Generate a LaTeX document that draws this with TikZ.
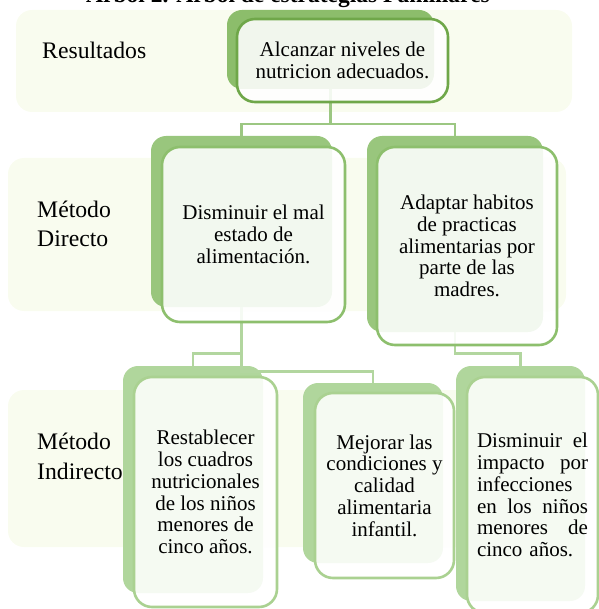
\documentclass[tikz,border=0pt]{standalone}
\usepackage{fontspec}
\setmainfont{Liberation Serif}
\definecolor{bandfill}{HTML}{F9FCEF}
\definecolor{backone}{HTML}{8CBD6B}
\definecolor{backtwo}{HTML}{99C67D}
\definecolor{backthree}{HTML}{B0D69C}
\definecolor{lineone}{HTML}{6FA749}
\definecolor{linetwo}{HTML}{8DBF6D}
\definecolor{linethree}{HTML}{AAD191}
\definecolor{linkone}{HTML}{9CC782}
\definecolor{linktwo}{HTML}{B2D69F}
\tikzset{
  band/.style={rounded corners=16pt, fill=bandfill, inner sep=0pt},
  backbox/.style={rounded corners=15pt, inner sep=0pt},
  frontbox/.style={rounded corners=18pt, draw, line width=2.6pt, fill=white,
    fill opacity=0.88, text opacity=1, inner sep=0pt, align=center,
    font=\fontsize{21}{21.8}\selectfont},
  level/.style={anchor=base west, inner sep=0pt, align=left, font=\fontsize{23.7}{29.3}\selectfont},
  link/.style={line width=2.6pt}
}
\begin{document}
\begin{tikzpicture}[x=1pt, y=-1pt]
    \useasboundingbox (0,0) rectangle (598,609);
    \path   node[anchor=base, font=\fontsize{23.5}{28}\selectfont\bfseries] (T) at (288,3) {Árbol 2. Árbol de estrategias Familiares}
            node[band, minimum width=556, minimum height=102] (R1) at (294,61) {}
            node[band, minimum width=558, minimum height=153] (R2) at (287,234.5) {}
            node[band, minimum width=558, minimum height=157] (R3) at (287,468.5) {}
            node[level] (L1) at (42,59) {Resultados}
            node[level] (L2) at (37,247) {Método\\Directo}
            node[level] (L3) at (37,479) {Método\\Indirecto};
    \path   node[backbox, fill=backone, minimum width=207, minimum height=79] (A) at (330.5,49.5) {}
            node[backbox, fill=backtwo, minimum width=181, minimum height=171] (B) at (241.5,221.5) {}
            node[backbox, fill=backtwo, minimum width=176, minimum height=196] (C) at (455,234) {}
            node[backbox, fill=backthree, minimum width=140, minimum height=227] (D) at (193,479.5) {}
            node[backbox, fill=backthree, minimum width=140, minimum height=180] (E) at (373,473) {}
            node[backbox, fill=backthree, minimum width=129, minimum height=235] (F) at (520.5,483.5) {};
    \draw[link, linkone] (A.south) -- ++(0,35) -| (B.north);
    \draw[link, linkone] (A.south) -- ++(0,35) -| (C.north);
    \draw[link, linktwo] (B.south) -- ++(0,46) -| (D.north);
    \draw[link, linktwo] (B.south) -- ++(0,64) -| (E.north);
    \draw[link, linktwo] (C.south) -- ++(0,21) -| (F.north);
    \path   node[frontbox, draw=lineone, minimum width=211, minimum height=83] (A1) at (342.5,60.5)
                {Alcanzar niveles de\\nutricion adecuados.}
            node[frontbox, draw=linetwo, minimum width=183, minimum height=175] (B1) at (253.5,234.5)
                {Disminuir el mal\\estado de\\alimentación.}
            node[frontbox, draw=linetwo, minimum width=180, minimum height=198] (C1) at (467,246)
                {Adaptar habitos\\de practicas\\alimentarias por\\parte de las\\madres.}
            node[frontbox, draw=linethree, minimum width=143, minimum height=230] (D1) at (205.5,492)
                {Restablecer\\los cuadros\\nutricionales\\de los niños\\menores de\\cinco años.}
            node[frontbox, draw=linethree, minimum width=139, minimum height=185] (E1) at (384.5,485.5)
                {Mejorar las\\condiciones y\\calidad\\alimentaria\\infantil.}
            node[frontbox, draw=linethree, minimum width=131, minimum height=236, align=left, text width=111] (F1) at (532.5,495)
                {Disminuir\hfill el\\impacto\hfill por\\infecciones\\en\hfill los\hfill niños\\menores\hfill de\\cinco años.};
\end{tikzpicture}
\end{document}
